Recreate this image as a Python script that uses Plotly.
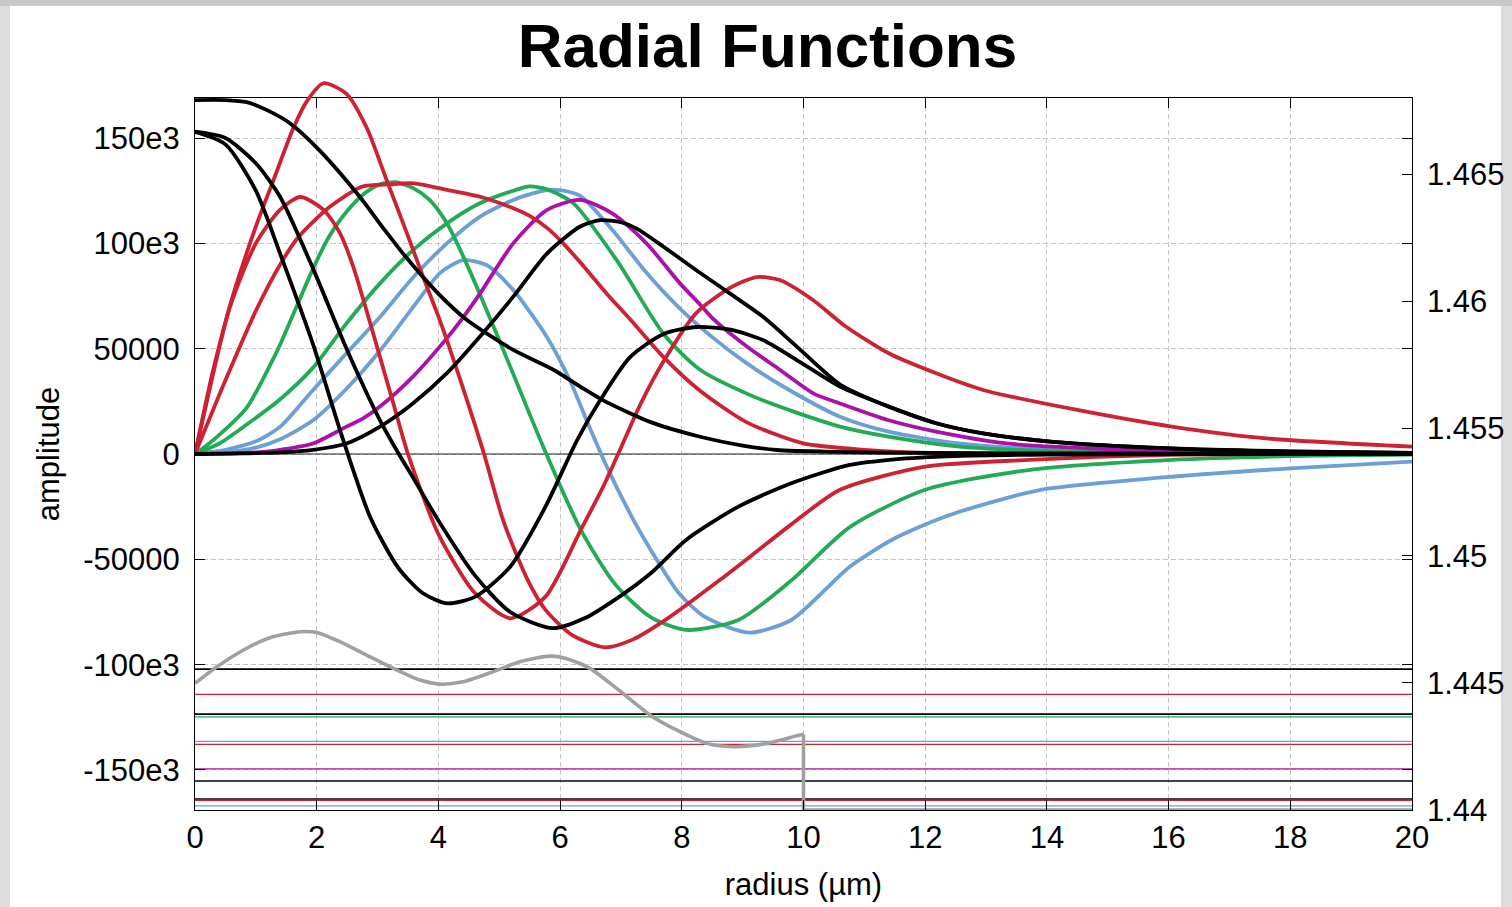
import plotly.graph_objects as go

# ---------------- data ----------------
radius_range = [0, 20]
amp_range = [-169000, 169000]
index_range = [1.44, 1.468]

x_ticks = [0, 2, 4, 6, 8, 10, 12, 14, 16, 18, 20]
amp_tickvals = [150000, 100000, 50000, 0, -50000, -100000, -150000]
amp_ticktext = ["150e3", "100e3", "50000", "0", "-50000", "-100e3", "-150e3"]
index_tickvals = [1.44, 1.445, 1.45, 1.455, 1.46, 1.465]
index_ticktext = ["1.44", "1.445", "1.45", "1.455", "1.46", "1.465"]

# zero baseline of the amplitude axis
baseline_v = [0, 0]

# refractive index profile (right axis)
core_r = [0, 0.36, 0.85, 1.28, 1.73, 2.0, 2.38, 2.82, 3.26, 3.7, 4.03, 4.4, 4.9, 5.34,
          5.83, 6.1, 6.49, 6.93, 7.48, 7.97, 8.41, 8.85, 9.4, 9.94, 10.0]
core_n = [1.44498, 1.44563, 1.44636, 1.44681, 1.44701, 1.44698, 1.44662, 1.44609, 1.44557,
          1.44511, 1.44495, 1.44504, 1.44544, 1.44583, 1.44605, 1.44596, 1.44557, 1.44478,
          1.44373, 1.44308, 1.44262, 1.44249, 1.44262, 1.44295, 1.44297]
clad_r = [10.0, 10.0, 20.0]
clad_n = [1.44297, 1.44, 1.44]

# effective indices of the modes (right axis)
neff_values = [1.44554, 1.44455, 1.44377, 1.44366, 1.44270, 1.44258, 1.44162,
               1.44114, 1.44043, 1.44038, 1.44016]
neff_colors = ["black", "red", "black", "green", "blue", "red", "purple",
               "black", "black", "red", "blue"]

# radial functions (left axis, values in units of 1e3)
blackA_r = [0, 0.5, 0.85, 1.2, 1.56, 2.05, 2.71, 3.1, 3.48, 3.97, 4.47, 5.23, 5.89, 6.33,
            6.7, 7.5, 8.3, 9.0, 9.56, 10.5, 12, 14, 16, 18, 20]
blackA_v = [168, 168, 167, 163, 157, 144, 122, 107, 93, 77, 63.6, 49.4, 40, 32,
            25.6, 15, 8.2, 4, 1.9, 1.0, 0.5, 0.3, 0.2, 0.1, 0.05]

blackB1_r = [0, 0.5, 1.0, 1.4, 1.94, 2.42, 2.88, 3.34, 3.74, 4.15, 4.61, 5.18, 5.76, 6.28,
             6.66, 7.15, 7.7, 8.25, 8.8, 9.34, 9.89, 10.6, 11.4, 12.18, 12.95, 14.1, 16, 18, 20]
blackB1_v = [153, 147, 125, 95, 52, 8, -30, -54, -66, -70.9, -67.7, -53.5, -25, 6.6,
             25.6, 46, 57, 60.3, 59, 54, 44.6, 32, 22.5, 14.6, 9.8, 5.8, 2.7, 1.1, 0.5]

blackB2_r = [0, 0.5, 1.0, 1.4, 1.94, 2.49, 3.04, 3.35, 3.6, 4.03, 4.61, 5.18, 5.88, 6.4,
             6.91, 7.49, 8.07, 8.93, 9.8, 10.76, 11.5, 12.5, 14, 16, 20]
blackB2_v = [153, 150, 138, 122, 88, 50, 16, 0, -12, -33, -58, -75, -82.7, -78,
             -69, -56.6, -40.8, -25, -13.9, -5.2, -2.5, -1, -0.3, -0.1, 0]

blackB3_r = [0, 0.74, 1.4, 1.94, 2.49, 3.04, 3.58, 4.14, 4.68, 5.23, 5.78, 6.33, 6.66, 7.0,
             7.26, 7.7, 8.25, 8.8, 9.34, 9.89, 10.6, 11.4, 12.18, 12.95, 14.1, 16.05, 18.4, 20]
blackB3_v = [0, 0.3, 0.8, 2, 5, 13, 24, 38.4, 55.7, 74.7, 95, 108, 111, 110,
             107, 98.4, 87, 76, 65, 51, 33, 22.5, 14.6, 9.8, 5.8, 2.7, 1.1, 0.5]

redA_r = [0, 0.3, 0.6, 1.0, 1.4, 1.73, 2.11, 2.38, 2.6, 2.82, 3.04, 3.26, 3.5, 4.0, 4.6,
          5.18, 5.76, 6.34, 6.7, 7.0, 7.31, 7.7, 8.24, 8.8, 9.23, 9.61, 10.16, 10.7, 11.4,
          12.18, 12.95, 14.5, 16.05, 17.6, 20]
redA_v = [0, 40, 72, 100, 116, 122, 116, 105, 89, 68, 46, 24, 0, -38, -66,
          -78, -67.7, -36, -16, 3, 23, 44, 67, 79, 84, 82.6, 73, 60.4, 47.8,
          38.3, 30.4, 20.9, 13, 7.4, 3.5]

redB_r = [0, 0.25, 0.55, 1.0, 1.29, 1.62, 1.85, 2.11, 2.49, 2.82, 3.15, 3.48, 3.75, 4.03,
          4.35, 4.75, 5.07, 5.47, 5.76, 6.2, 6.74, 7.2, 7.78, 8.64, 9.22, 9.8, 10.6, 12.0,
          13.7, 15.9, 20]
redB_v = [0, 32, 68, 108, 130, 155, 168, 176, 171, 155, 130, 105, 84, 63,
          36, 0, -32, -60, -74, -86, -91.8, -88, -77.8, -59.5, -46.5, -33.4, -17, -6,
          -2.8, -0.5, 0]

redC_r = [0, 0.5, 1.0, 1.4, 1.7, 2.2, 2.75, 3.2, 3.6, 4.2, 4.7, 5.2, 5.5, 5.8, 6.05, 6.33,
          6.77, 7.15, 7.7, 8.3, 9.07, 10.0, 11, 12.2, 14, 20]
redC_v = [0, 35, 68, 90, 103, 117, 127, 128, 128.5, 125, 122, 117, 113, 107, 100, 91,
          76, 64, 46, 30, 15, 5, 2, 0.4, 0.1, 0]

greenA_r = [0, 0.3, 0.85, 1.23, 1.4, 1.67, 1.94, 2.2, 2.49, 2.8, 3.04, 3.3, 3.6, 3.86, 4.14,
            4.41, 4.68, 5.23, 5.7, 6.34, 6.91, 7.49, 8.07, 8.93, 9.8, 10.76, 12.0, 13.7,
            16.05, 18.4, 20]
greenA_v = [0, 6.6, 22, 42, 52, 70, 88, 103, 115, 124, 128, 129, 126, 120.5, 109.5,
            93.7, 76, 38, 5, -36, -62, -77.5, -83.5, -78.8, -60, -34.7, -17, -7.6,
            -2.8, -0.8, -0.3]

greenB_r = [0, 0.4, 0.85, 1.4, 1.94, 2.49, 3.04, 3.59, 4.14, 4.68, 5.23, 5.5, 5.8, 6.22,
            6.93, 7.7, 8.3, 9.2, 9.85, 10.6, 11.4, 12.56, 14.5, 17, 20]
greenB_v = [0, 5, 14, 26, 41, 62, 81, 97, 109.5, 119, 125, 127, 125.5, 119,
            92, 57, 40, 27, 20, 13, 8.2, 3.5, 1, 0.3, 0.1]

blueA_r = [0, 0.58, 1.0, 1.4, 1.94, 2.49, 3.04, 3.59, 4.03, 4.41, 4.79, 5.23, 5.78, 6.16,
           6.45, 6.8, 7.2, 7.5, 7.95, 8.36, 9.1, 9.8, 10.76, 11.5, 12.3, 13.2, 13.9, 16.05,
           18.0, 20]
blueA_v = [0, 1, 3, 7, 16, 31, 49, 70, 86, 92, 89.7, 77.8, 55.7, 35, 15, -8, -31, -46,
           -66, -77, -84.8, -78.8, -53.5, -40, -30, -22, -17, -10.8, -6.8, -3.6]

blueB_r = [0, 0.5, 1.0, 1.4, 1.94, 2.49, 3.04, 3.59, 4.14, 4.68, 5.23, 5.78, 6.05, 6.33,
           6.87, 7.42, 7.97, 8.52, 9.07, 9.61, 10.6, 11.4, 12.56, 14.5, 17, 20]
blueB_v = [0, 2, 6, 13, 30.4, 47.8, 65, 84, 100, 112.6, 120.6, 125.3, 125, 122.5,
           106, 86, 69, 55, 43, 33, 17.7, 10.6, 5, 1.5, 0.4, 0.1]

purple_r = [0, 0.7, 1.12, 1.4, 1.94, 2.49, 2.77, 3.04, 3.59, 4.14, 4.41, 4.68, 5.23, 5.78,
            6.33, 6.87, 7.42, 7.97, 8.3, 8.52, 9.07, 9.61, 10.16, 10.6, 11.4, 12.18, 13.34,
            15.3, 16.9, 20]
purple_v = [0, 0.3, 1, 2, 5, 13, 17, 22.5, 37, 55, 65, 76, 100, 115.8,
            120.6, 114, 100, 81, 71, 64, 51, 40, 28.8, 24, 16, 10.6, 5,
            2, 1, 0.2]

# ---------------- styling ----------------
COLORS = {"black": "#000000", "red": "#cc2233", "green": "#22aa55",
          "blue": "#6b9fd6", "purple": "#aa10aa", "gray": "#a0a0a0"}
FONT = "Liberation Sans, Arial, sans-serif"

W, H = 1512, 907
M_L, M_R, M_T, M_B = 195, 100, 80, 97
FRAME_TOP_PX = 98
plot_h = H - M_T - M_B
dom_top = (H - M_B - FRAME_TOP_PX) / plot_h
ext_top = amp_range[0] + (amp_range[1] - amp_range[0]) / dom_top

fig = go.Figure()

# zero baseline on the main amplitude axes (also anchors the x/y subplot)
fig.add_trace(go.Scatter(x=radius_range, y=baseline_v, mode="lines", xaxis="x", yaxis="y",
                         line=dict(color="#222222", width=1), hoverinfo="skip",
                         showlegend=False))

# effective index lines
for n, c in zip(neff_values, neff_colors):
    fig.add_trace(go.Scatter(
        x=radius_range, y=[n, n], mode="lines", xaxis="x", yaxis="y2",
        line=dict(color=COLORS[c], width=1.6 if c == "black" else 1.3),
        hoverinfo="skip", showlegend=False))

# refractive index profile
fig.add_trace(go.Scatter(x=core_r, y=core_n, mode="lines", xaxis="x", yaxis="y2",
                         line=dict(color=COLORS["gray"], width=3.6, shape="spline",
                                   smoothing=0.7),
                         showlegend=False))
fig.add_trace(go.Scatter(x=clad_r, y=clad_n, mode="lines", xaxis="x", yaxis="y2",
                         line=dict(color=COLORS["gray"], width=3.6),
                         showlegend=False))

curves = [
    (blueA_r, blueA_v, "blue"),
    (blueB_r, blueB_v, "blue"),
    (greenA_r, greenA_v, "green"),
    (greenB_r, greenB_v, "green"),
    (purple_r, purple_v, "purple"),
    (redC_r, redC_v, "red"),
    (redA_r, redA_v, "red"),
    (redB_r, redB_v, "red"),
    (blackB3_r, blackB3_v, "black"),
    (blackB2_r, blackB2_v, "black"),
    (blackB1_r, blackB1_v, "black"),
    (blackA_r, blackA_v, "black"),
]
for r, v, c in curves:
    fig.add_trace(go.Scatter(
        x=r, y=[val * 1000 for val in v], mode="lines", xaxis="x3", yaxis="y3",
        line=dict(color=COLORS[c], width=3.8, shape="spline", smoothing=0.7),
        showlegend=False))

tickfont = dict(family=FONT, size=31, color="black")
grid = dict(gridcolor="#c4c4c4", gridwidth=1, griddash="5px,3px")

fig.update_layout(
    width=W, height=H,
    margin=dict(l=M_L, r=M_R, t=M_T, b=M_B, pad=0),
    paper_bgcolor="white", plot_bgcolor="rgba(0,0,0,0)",
    template="none",
    showlegend=False,
    title=dict(text="<b>Radial Functions</b>", x=0.5076, xref="container", xanchor="center",
               y=1 - 45 / H, yref="container", yanchor="middle",
               font=dict(family=FONT, size=62, color="black")),
    xaxis=dict(range=radius_range, domain=[0, 1], anchor="y", tickvals=x_ticks,
               ticks="inside", ticklen=10, tickcolor="black", tickwidth=1,
               showline=True, linecolor="black", linewidth=1, mirror="ticks",
               showgrid=True, zeroline=False, tickfont=tickfont,
               title=dict(text="radius (µm)", font=dict(family=FONT, size=31, color="black"),
                          standoff=19),
               **grid),
    yaxis=dict(range=amp_range, domain=[0, dom_top], anchor="x",
               tickvals=amp_tickvals, ticktext=amp_ticktext,
               ticks="inside", ticklen=10, tickcolor="black", tickwidth=1,
               showline=True, linecolor="black", linewidth=1, mirror="ticks",
               showgrid=True, zeroline=False,
               tickfont=tickfont, ticklabelstandoff=8,
               title=dict(text="amplitude", font=dict(family=FONT, size=31, color="black"),
                          standoff=14),
               **grid),
    yaxis2=dict(range=index_range, overlaying="y", side="right", anchor="x",
                tickvals=index_tickvals, ticktext=index_ticktext,
                ticks="inside", ticklen=10, tickcolor="black", tickwidth=1,
                showline=False, showgrid=False, zeroline=False,
                tickfont=tickfont, ticklabelstandoff=14),
    xaxis3=dict(range=radius_range, domain=[0, 1], anchor="y3", visible=False,
                fixedrange=True),
    yaxis3=dict(range=[amp_range[0], ext_top], domain=[0, 1], anchor="x3",
                visible=False, fixedrange=True),
)

# window-edge decoration (light gray borders of the screenshot)
def px_to_paper_x(px):
    return (px - M_L) / (W - M_L - M_R)

def px_to_paper_y(py):
    return (H - M_B - py) / plot_h

fig.add_shape(type="rect", xref="paper", yref="paper",
              x0=px_to_paper_x(0), x1=px_to_paper_x(10), y0=px_to_paper_y(H), y1=px_to_paper_y(0),
              fillcolor="#dcdcdc", line_width=0, layer="below")
fig.add_shape(type="rect", xref="paper", yref="paper",
              x0=px_to_paper_x(1501), x1=px_to_paper_x(W), y0=px_to_paper_y(H), y1=px_to_paper_y(0),
              fillcolor="#dcdcdc", line_width=0, layer="below")
fig.add_shape(type="rect", xref="paper", yref="paper",
              x0=px_to_paper_x(0), x1=px_to_paper_x(W), y0=px_to_paper_y(6), y1=px_to_paper_y(0),
              fillcolor="#c8c8c8", line_width=0, layer="below")

fig.write_html("out.html")
